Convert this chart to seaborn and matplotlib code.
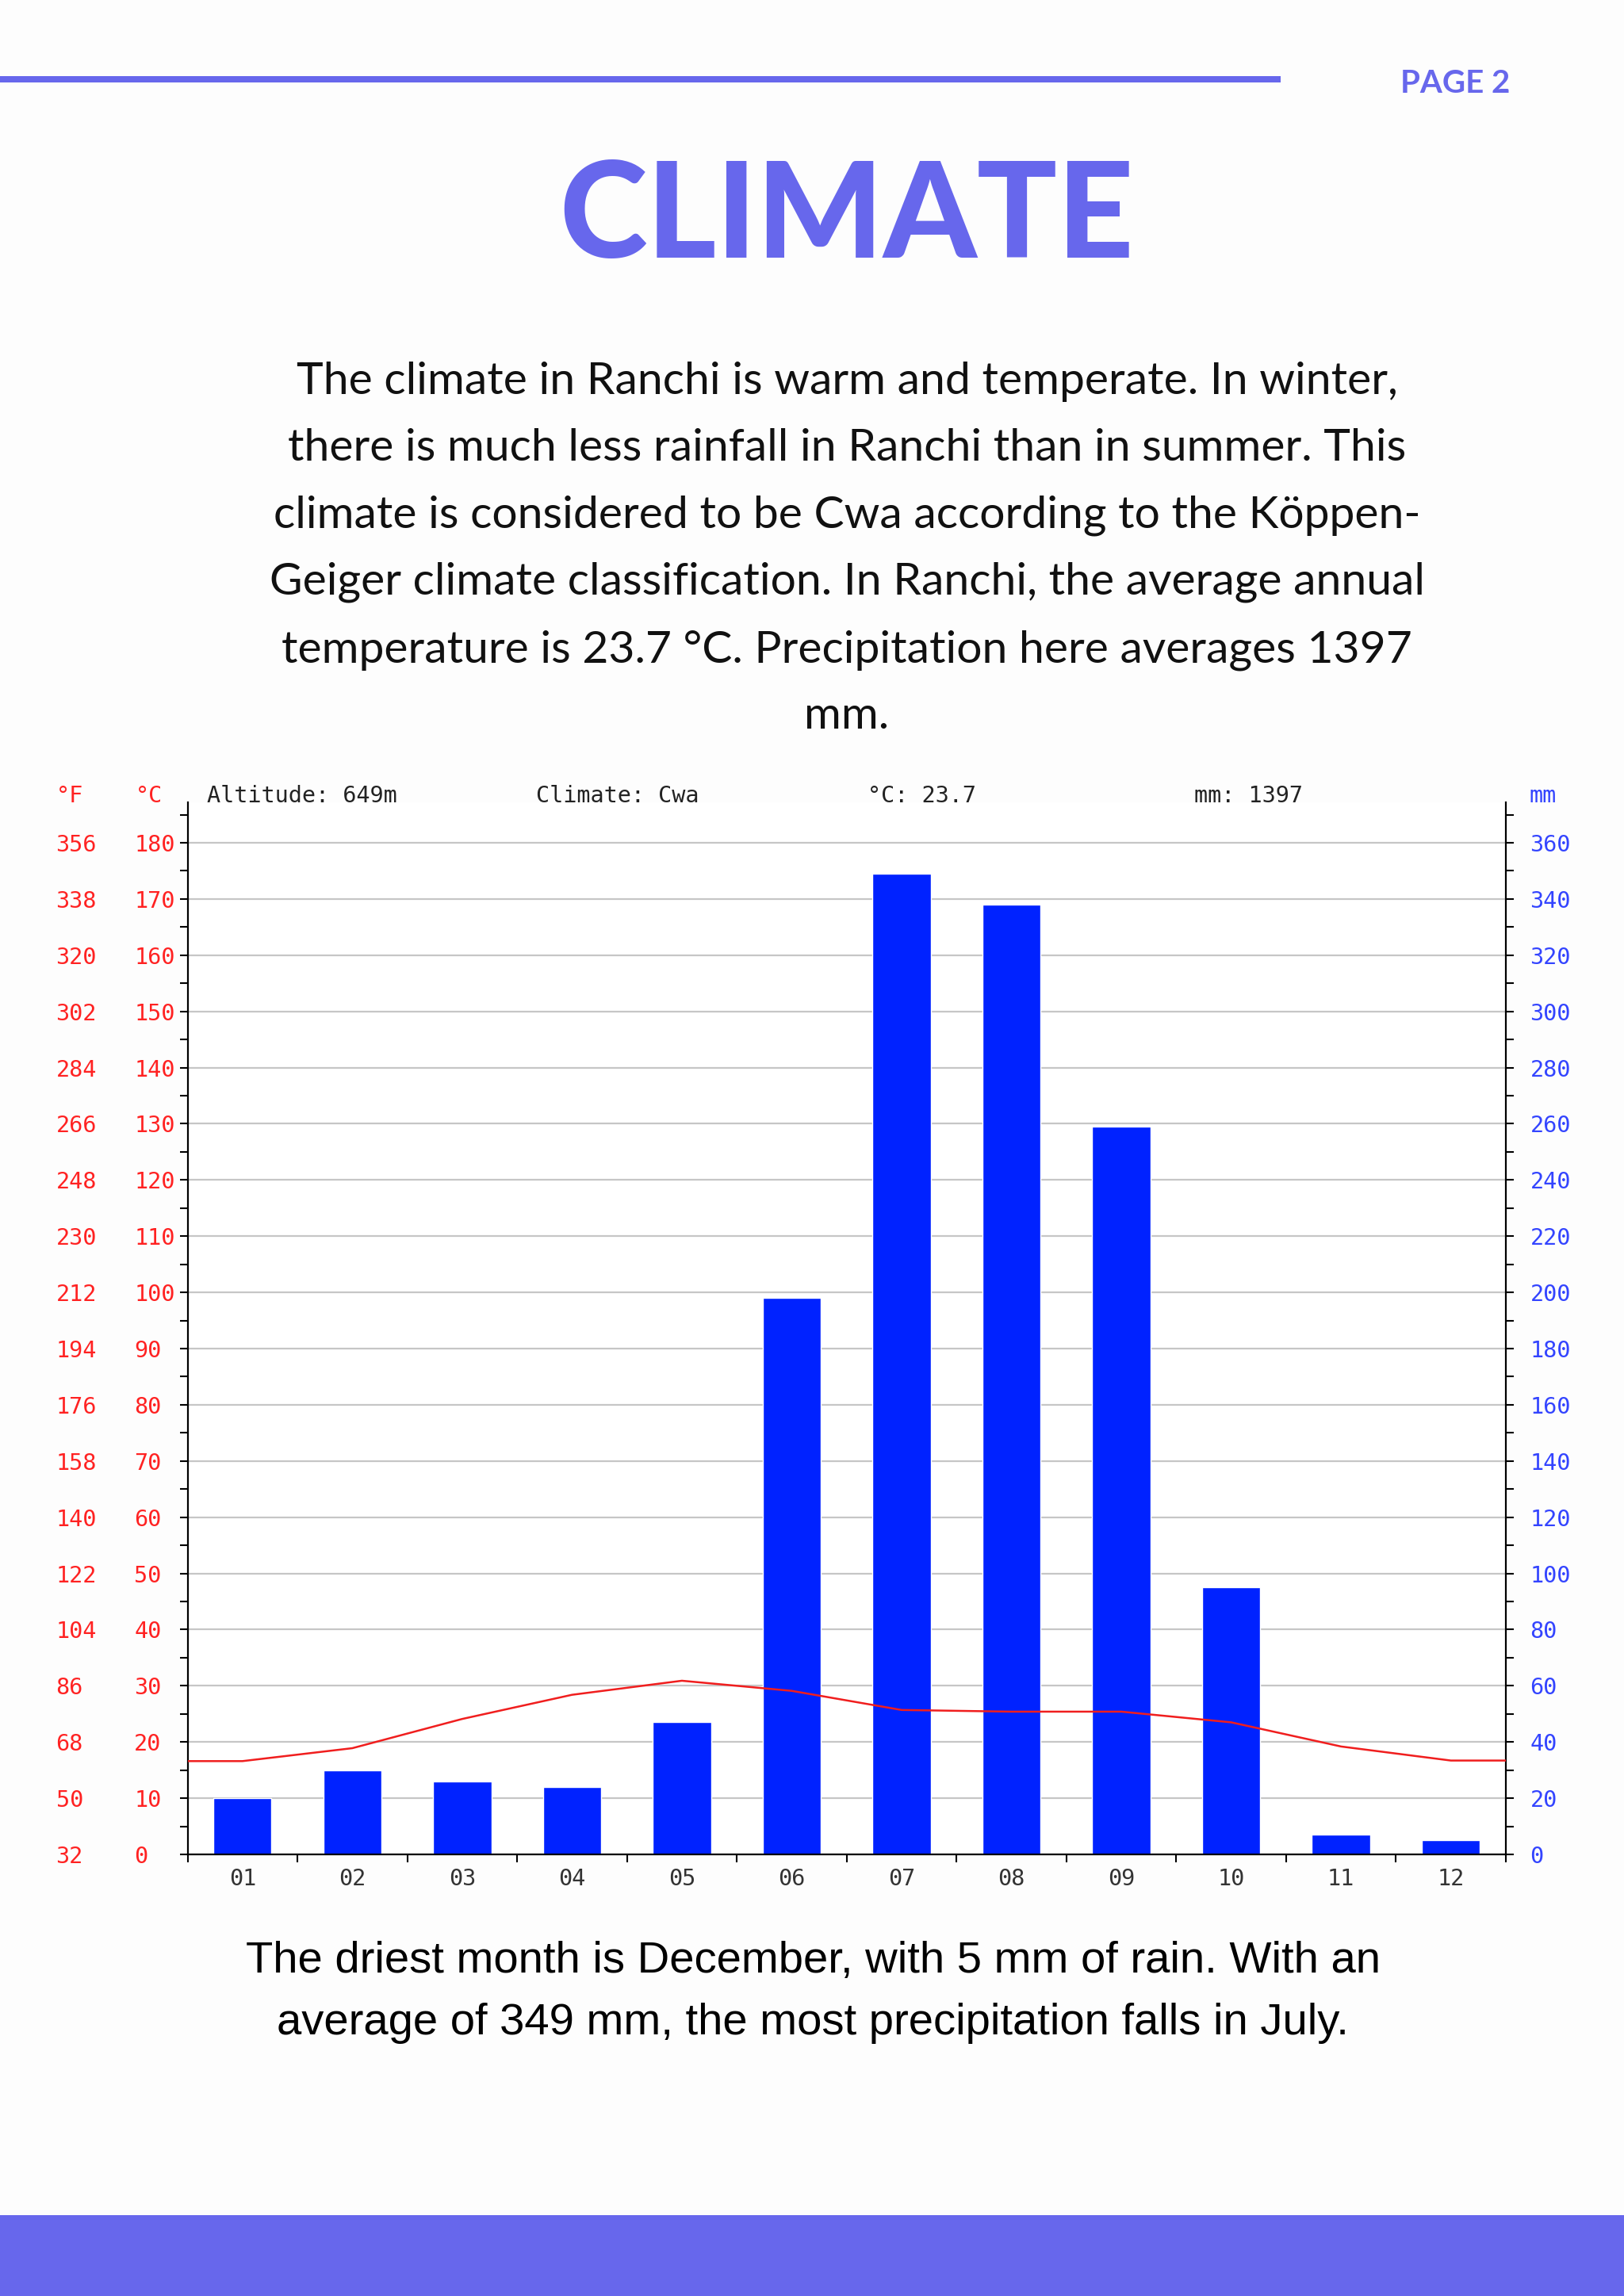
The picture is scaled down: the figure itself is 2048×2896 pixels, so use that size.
import numpy as np
import matplotlib
matplotlib.use("Agg")
import matplotlib.pyplot as plt
import seaborn as sns
from matplotlib.patches import Rectangle
from matplotlib.ticker import MultipleLocator

# ---------------- data ----------------
months = ["01", "02", "03", "04", "05", "06", "07", "08", "09", "10", "11", "12"]
precip_mm = [20, 30, 26, 24, 47, 198, 349, 338, 259, 95, 7, 5]
temp_c = [16.6, 18.9, 24.1, 28.4, 30.9, 29.1, 25.7, 25.4, 25.4, 23.5, 19.2, 16.7]

celsius_ticks = list(range(0, 181, 10))
fahrenheit_labels = ["32", "50", "68", "86", "104", "122", "140", "158", "176", "194",
                     "212", "230", "248", "266", "284", "302", "320", "338", "356"]
mm_ticks = list(range(0, 361, 20))

header_items = ["Altitude: 649m", "Climate: Cwa", "°C: 23.7", "mm: 1397"]

paragraph_lines = [
    "The climate in Ranchi is warm and temperate. In winter,",
    "there is much less rainfall in Ranchi than in summer. This",
    "climate is considered to be Cwa according to the Köppen-",
    "Geiger climate classification. In Ranchi, the average annual",
    "temperature is 23.7 °C. Precipitation here averages 1397",
    "mm.",
]
footer_lines = [
    "The driest month is December, with 5 mm of rain. With an",
    "average of 349 mm, the most precipitation falls in July.",
]

# ---------------- style ----------------
PURPLE = "#6767EC"
BAR_BLUE = "#0022FF"
LINE_RED = "#F01E1E"
LABEL_RED = "#FF2222"
LABEL_BLUE = "#3344FF"
BG = "#FDFDFD"
MONO = "DejaVu Sans Mono"

sns.set_theme(style="white")
plt.rcParams["font.family"] = ["DejaVu Sans"]

W, H = 2048, 2896


def fx(px):
    return px / W


def fy(py):
    return 1 - py / H


fig = plt.figure(figsize=(W / 100, H / 100), dpi=100)
fig.patch.set_facecolor(BG)

# chart axes (pixel geometry of the reference)
left_px, right_px, bottom_px, top_px = 236.5, 1899, 2339, 1012
ax = fig.add_axes([fx(left_px), fy(bottom_px), (right_px - left_px) / W, (bottom_px - top_px) / H])
ax.set_facecolor("#FFFFFF")
ax_t = ax.twinx()

# precipitation bars
sns.barplot(x=months, y=precip_mm, ax=ax, color=BAR_BLUE, saturation=1, width=0.53, zorder=2)

# temperature line (held flat to the frame edges, as in the reference)
x_line = [-0.5] + list(range(len(months))) + [len(months) - 0.5]
y_line = [temp_c[0]] + temp_c + [temp_c[-1]]
sns.lineplot(x=x_line, y=y_line, ax=ax_t, color=LINE_RED, linewidth=1.8, sort=False)

ax.set_ylim(0, 374.4)
ax_t.set_ylim(0, 187.2)
ax.set_xlim(-0.5, 11.5)
ax_t.set_xlim(-0.5, 11.5)
ax.set_xlabel("")
ax.set_ylabel("")
ax_t.set_xlabel("")
ax_t.set_ylabel("")

# grid
ax.set_axisbelow(True)
ax.yaxis.grid(True, color="#C6C6C6", linewidth=1.6)
ax.xaxis.grid(False)
ax_t.grid(False)

# spines
for s in ["left", "right", "bottom"]:
    ax.spines[s].set_visible(True)
    ax.spines[s].set_color("black")
    ax.spines[s].set_linewidth(1.6)
ax.spines["top"].set_visible(False)
for s in ax_t.spines.values():
    s.set_visible(False)

# right axis: mm
ax.yaxis.tick_right()
ax.set_yticks(mm_ticks, labels=[str(v) for v in mm_ticks], ha="left")
ax.yaxis.set_minor_locator(MultipleLocator(10))
ax.tick_params(axis="y", which="both", direction="out", length=7, width=1.5, color="black",
               right=True, left=False, labelright=True, labelleft=False)
ax.tick_params(axis="y", which="major", labelsize=20.5, labelcolor=LABEL_BLUE, pad=15)
for lab in ax.get_yticklabels():
    lab.set_fontfamily(MONO)

# left axis: °C
ax_t.yaxis.tick_left()
ax_t.set_yticks(celsius_ticks, labels=[str(v) for v in celsius_ticks], ha="left")
ax_t.yaxis.set_minor_locator(MultipleLocator(5))
ax_t.tick_params(axis="y", which="both", direction="out", length=7, width=1.5, color="black",
                 left=True, right=False, labelleft=True, labelright=False)
ax_t.tick_params(axis="y", which="major", labelsize=20.5, labelcolor=LABEL_RED, pad=41.5)
for lab in ax_t.get_yticklabels():
    lab.set_fontfamily(MONO)

# far-left axis: °F
sec = ax_t.secondary_yaxis("left", functions=(lambda c: c * 1.8 + 32, lambda f: (f - 32) / 1.8))
sec.set_yticks([float(v) for v in fahrenheit_labels], labels=fahrenheit_labels, ha="left")
sec.spines["left"].set_visible(False)
sec.tick_params(axis="y", which="both", length=0, labelsize=20.5, labelcolor=LABEL_RED, pad=119.5)
sec.yaxis.set_minor_locator(MultipleLocator(1000))
for lab in sec.get_yticklabels():
    lab.set_fontfamily(MONO)

# x axis: boundary ticks, month labels centred
ax.set_xticks(np.arange(-0.5, 12, 1), labels=[""] * 13)
ax.set_xticks(range(len(months)), labels=months, minor=True)
ax.tick_params(axis="x", which="major", direction="out", length=7, width=1.5, color="black", bottom=True)
ax.tick_params(axis="x", which="minor", length=0, labelsize=20.5, labelcolor="#333333", pad=12, bottom=True)
for lab in ax.get_xticklabels(minor=True):
    lab.set_fontfamily(MONO)

# chart header
for txt, xp in zip(header_items, [261, 676, 1094.5, 1506]):
    fig.text(fx(xp), fy(1012), txt, fontsize=20.5, family=MONO, color="#222222", ha="left", va="baseline")
fig.text(fx(70.5), fy(1012), "°F", fontsize=20.5, family=MONO, color=LABEL_RED, ha="left", va="baseline")
fig.text(fx(171), fy(1012), "°C", fontsize=20.5, family=MONO, color=LABEL_RED, ha="left", va="baseline")
fig.text(fx(1928.6), fy(1012), "mm", fontsize=20.5, family=MONO, color=LABEL_BLUE, ha="left", va="baseline")

# page decorations
fig.add_artist(Rectangle((0, fy(104)), fx(1615), 8 / H, transform=fig.transFigure,
                         facecolor=PURPLE, edgecolor="none"))
fig.add_artist(Rectangle((0, 0), 1, (H - 2794) / H, transform=fig.transFigure,
                         facecolor=PURPLE, edgecolor="none"))
fig.text(fx(1835), fy(117), "PAGE 2", fontsize=29, fontweight="bold", family=["Lato", "DejaVu Sans"],
         color=PURPLE, ha="center", va="baseline")
fig.text(fx(1068), fy(325), "CLIMATE", fontsize=121, fontweight="black", family=["Lato", "DejaVu Sans"],
         color=PURPLE, ha="center", va="baseline")

for line, yb in zip(paragraph_lines, [497, 581, 665, 750, 835, 919]):
    fig.text(fx(1068), fy(yb), line, fontsize=41, family=["Lato", "DejaVu Sans"], color="#111111",
             ha="center", va="baseline")

for line, yb in zip(footer_lines, [2488, 2566]):
    fig.text(fx(1025), fy(yb), line, fontsize=40.5, family=["Liberation Sans", "DejaVu Sans"], color="#000000",
             ha="center", va="baseline")

fig.savefig("out.png", dpi=100, facecolor=BG)
